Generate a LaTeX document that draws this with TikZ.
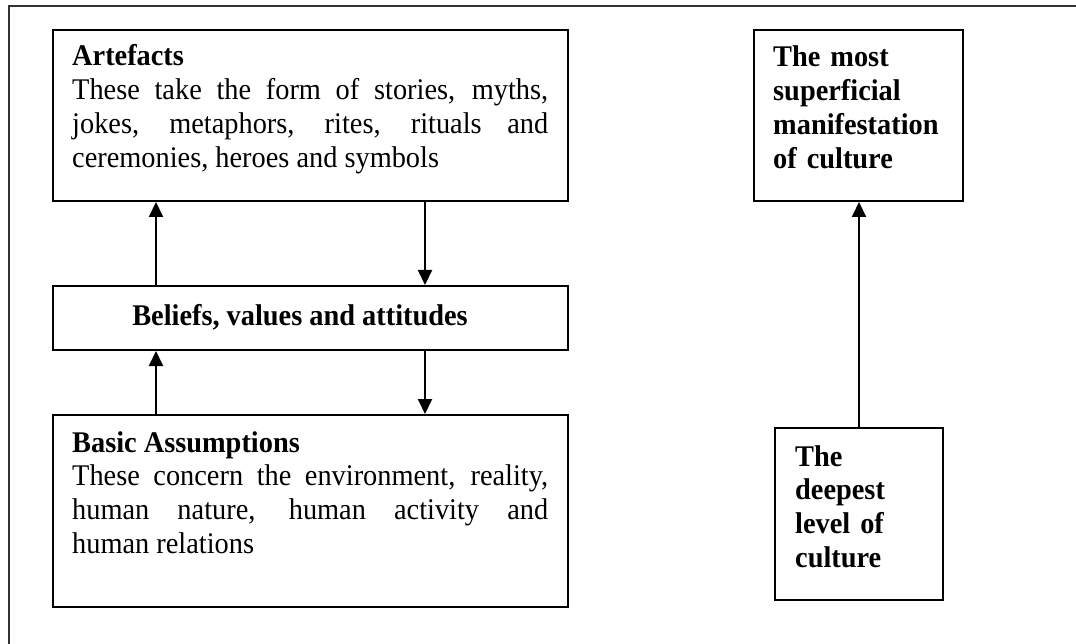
\documentclass[tikz,border=0pt]{standalone}
\usepackage{fontspec}
\setmainfont{Liberation Serif}[FakeStretch=0.945]
\usetikzlibrary{arrows.meta}
\begin{document}
\begin{tikzpicture}[x=1pt,y=-1pt,
  box/.style={draw=black, line width=2pt, inner sep=0pt, anchor=north west},
  txt/.style={inner sep=0pt, anchor=base west, font=\fontsize{30}{33.8}\selectfont},
  arr/.style={line width=2pt, -{Triangle[width=14pt,length=15pt]}},
  frame/.style={draw=black!80, line width=2pt}
]
\useasboundingbox (0,0) rectangle (1076,644);
\draw[frame] (9,650) -- (9,6) -- (1080,6);

% boxes
\node[box, minimum width=515pt, minimum height=171pt] (art) at (52,29) {};
\node[box, minimum width=515pt, minimum height=64pt] (bel) at (52,285) {};
\node[box, minimum width=515pt, minimum height=192pt] (bas) at (52,414) {};
\node[box, minimum width=209pt, minimum height=171pt] (sup) at (753,29) {};
\node[box, minimum width=168pt, minimum height=172pt] (deep) at (774,427) {};

% texts
\node[txt, text width=476pt, align=justify] (arttxt) at (72,66)
  {\textbf{Artefacts}\\These take the form of stories, myths,\linebreak jokes, metaphors, rites, rituals and\linebreak ceremonies, heroes and symbols};
\node[txt, anchor=base, font=\fontsize{30}{33.8}\selectfont\bfseries] (beltxt) at (300,326) {Beliefs, values and attitudes};
\node[txt, text width=476pt, align=justify] (bastxt) at (72,452)
  {\textbf{Basic Assumptions}\\These concern the environment, reality,\linebreak human nature, human activity and\linebreak human relations};
\node[txt, text width=190pt, align=left, font=\fontsize{30}{33.8}\selectfont\bfseries] (suptxt) at (773,67)
  {The most\\superficial\\manifestation\\of culture};
\node[txt, text width=140pt, align=left, font=\fontsize{30}{33.8}\selectfont\bfseries] (deeptxt) at (795,466)
  {The\\deepest\\level of\\culture};

% connectors
\draw[arr] ([xshift=104pt]bel.north west) -- ([xshift=104pt]art.south west);
\draw[arr] ([xshift=373pt]art.south west) -- ([xshift=373pt]bel.north west);
\draw[arr] ([xshift=104pt]bas.north west) -- ([xshift=104pt]bel.south west);
\draw[arr] ([xshift=373pt]bel.south west) -- ([xshift=373pt]bas.north west);
\draw[arr] (deep.north) -- (deep.north |- sup.south);
\end{tikzpicture}
\end{document}
